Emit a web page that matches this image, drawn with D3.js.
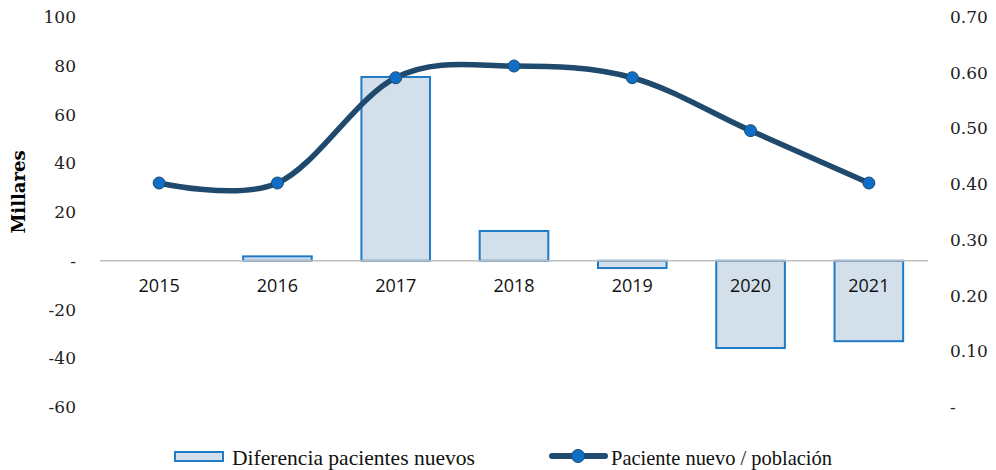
<!DOCTYPE html>
<meta charset="utf-8">
<script src="https://d3js.org/d3.v7.min.js"></script>
<style>
  body { margin: 0; background: #fff; }
  .tick-l, .tick-r { font-family: 'DejaVu Serif', serif; font-size: 17px; fill: #222; }
  .year { font-family: 'Open Sans', sans-serif; font-size: 18px; fill: #111; }
  .legend { font-family: 'Liberation Serif', serif; font-size: 21px; fill: #111; }
</style>
<body>
<div id="chart"></div>
<script>

var years = ["2015", "2016", "2017", "2018", "2019", "2020", "2021"]
var diffPacientes = [0, 1.8, 75.4, 12.2, -3, -35.8, -33]      // millares
var pacientePoblacion = [0.402, 0.402, 0.591, 0.612, 0.591, 0.496, 0.402]

var leftTicks = [100, 80, 60, 40, 20, 0, -20, -40, -60]
var rightTicks = [0.7, 0.6, 0.5, 0.4, 0.3, 0.2, 0.1, 0]

var width = 996,
    height = 470

var svg = d3.select("#chart")
  .append("svg")
    .attr("width", width)
    .attr("height", height)

var x = d3.scaleBand()
  .domain(years)
  .range([100, 928])
  .paddingInner(0.42)
  .paddingOuter(0.21)

var yL = d3.scaleLinear().domain([-60, 100]).range([407, 17])
var yR = d3.scaleLinear().domain([0, 0.7]).range([407, 17])

// left axis labels
svg.selectAll('.tick-l')
  .data(leftTicks)
  .enter()
  .append('text')
    .attr('class', 'tick-l')
    .attr('x', 76)
    .attr('y', function(d){ return yL(d) + 6 })
    .attr('text-anchor', 'end')
    .text(function(d){ return d === 0 ? "-" : d })

// right axis labels
svg.selectAll('.tick-r')
  .data(rightTicks)
  .enter()
  .append('text')
    .attr('class', 'tick-r')
    .attr('x', 950)
    .attr('y', function(d){ return yR(d) + 6 })
    .attr('text-anchor', 'start')
    .text(function(d){ return d === 0 ? "-" : d3.format(".2f")(d) })

svg.append('text')
  .attr('transform', 'translate(25,' + 192 + ') rotate(-90)')
  .attr('text-anchor', 'middle')
  .style('font-family', "'DejaVu Serif', serif")
  .style('font-weight', 'bold')
  .style('font-size', '18px')
  .text('Millares')

// bars
svg.selectAll('.bar')
  .data(diffPacientes)
  .enter()
  .append('rect')
    .attr('class', 'bar')
    .attr('x', function(d, i){ return x(years[i]) })
    .attr('width', x.bandwidth())
    .attr('y', function(d){ return Math.min(yL(d), yL(0)) })
    .attr('height', function(d){ return Math.abs(yL(d) - yL(0)) })
    .attr('fill', '#d3dfeb')
    .attr('stroke', '#1f7bc6')
    .attr('stroke-width', 2)
    .style('display', function(d){ return d === 0 ? 'none' : null })

// zero line
svg.append('line')
  .attr('x1', 100).attr('x2', 928)
  .attr('y1', yL(0)).attr('y2', yL(0))
  .attr('stroke', '#bfbfbf')
  .attr('stroke-width', 1.5)

// year labels
svg.selectAll('.year')
  .data(years)
  .enter()
  .append('text')
    .attr('class', 'year')
    .attr('x', function(d){ return x(d) + x.bandwidth() / 2 })
    .attr('y', yL(0) + 31)
    .attr('text-anchor', 'middle')
    .text(function(d){ return d })

// line
var line = d3.line()
  .x(function(d, i){ return x(years[i]) + x.bandwidth() / 2 })
  .y(function(d){ return yR(d) })
  .curve(d3.curveCardinal.tension(0))

svg.append('path')
  .datum(pacientePoblacion)
  .attr('d', line)
  .attr('fill', 'none')
  .attr('stroke', '#1f4a6e')
  .attr('stroke-width', 5.5)
  .attr('stroke-linecap', 'round')

svg.selectAll('.dot')
  .data(pacientePoblacion)
  .enter()
  .append('circle')
    .attr('class', 'dot')
    .attr('cx', function(d, i){ return x(years[i]) + x.bandwidth() / 2 })
    .attr('cy', function(d){ return yR(d) })
    .attr('r', 6)
    .attr('fill', '#0f6fc6')
    .attr('stroke', '#1f4a6e')
    .attr('stroke-width', 1)

// legend
var lg = svg.append('g')
lg.append('rect')
  .attr('x', 175).attr('y', 452).attr('width', 48).attr('height', 9)
  .attr('fill', '#d3dfeb').attr('stroke', '#1f7bc6').attr('stroke-width', 2)
lg.append('text')
  .attr('class', 'legend')
  .attr('x', 232).attr('y', 465)
  .attr('textLength', 243)
  .attr('lengthAdjust', 'spacingAndGlyphs')
  .text('Diferencia pacientes nuevos')

lg.append('line')
  .attr('x1', 552).attr('x2', 605).attr('y1', 456).attr('y2', 456)
  .attr('stroke', '#1f4a6e').attr('stroke-width', 6).attr('stroke-linecap', 'round')
lg.append('circle')
  .attr('cx', 578).attr('cy', 456).attr('r', 6.5)
  .attr('fill', '#0f6fc6').attr('stroke', '#1f4a6e').attr('stroke-width', 1)
lg.append('text')
  .attr('class', 'legend')
  .attr('x', 611).attr('y', 465)
  .attr('textLength', 221)
  .attr('lengthAdjust', 'spacingAndGlyphs')
  .text('Paciente nuevo / población')

</script>
</body>
